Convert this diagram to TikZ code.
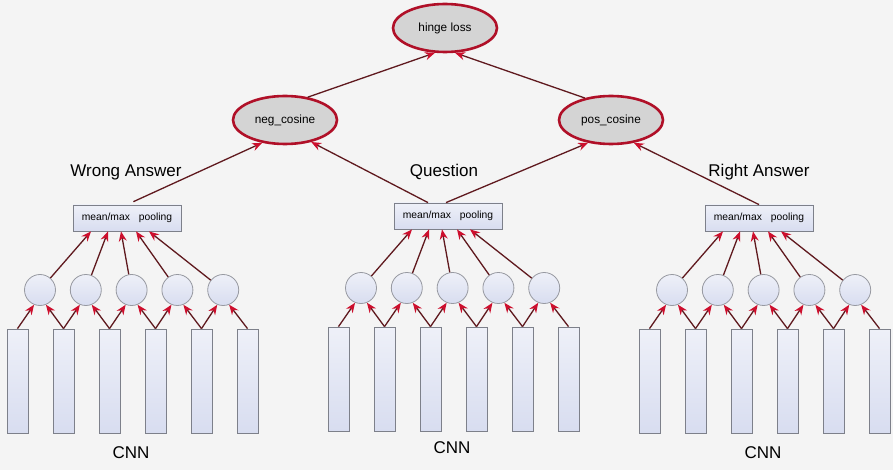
\documentclass[tikz,border=0pt]{standalone}
\usepackage{fontspec}
\setmainfont{Liberation Sans}
\usetikzlibrary{shapes.geometric,arrows.meta}
\definecolor{bg}{RGB}{244,244,244}
\definecolor{lossred}{RGB}{176,16,40}
\definecolor{ellfill}{RGB}{212,212,212}
\definecolor{linecol}{RGB}{95,25,30}
\definecolor{tipred}{RGB}{205,15,45}
\definecolor{boxedge}{RGB}{125,128,138}
\definecolor{bluetop}{RGB}{238,240,248}
\definecolor{bluebot}{RGB}{216,221,240}
\tikzset{
 lossnode/.style={ellipse, draw=lossred, line width=2.6pt, fill=ellfill, minimum width=104pt, minimum height=48pt, inner sep=0pt, font=\fontsize{11.8}{14}\selectfont},
 poolbox/.style={rectangle, draw=boxedge, line width=0.8pt, top color=bluetop, bottom color=bluebot, minimum width=108pt, minimum height=26pt, inner sep=0pt, font=\fontsize{10.3}{12}\selectfont},
 cell/.style={circle, draw=boxedge!80, line width=0.8pt, top color=bluetop, bottom color=bluebot, minimum size=31pt, inner sep=0pt},
 barbox/.style={rectangle, draw=boxedge, line width=0.8pt, top color=bluetop, bottom color=bluebot, minimum width=21pt, minimum height=104pt, inner sep=0pt},
 grplabel/.style={font=\fontsize{17}{20}\selectfont, inner sep=0pt},
 conn/.style={draw=linecol, line width=1.3pt, -{Stealth[length=10pt,width=8pt,color=tipred]}},
}
\newcommand{\cnngroup}[3]{%
 \begin{scope}[shift={(#2,#3)}]
  \foreach \i in {1,...,6} \node[barbox] (#1b\i) at ({17.5+46*(\i-1)},381) {};
  \foreach \j in {1,...,5} \node[cell] (#1c\j) at ({40+45.8*(\j-1)},290) {};
  \node[poolbox] (#1p) at (127,218) {mean/max\hspace{9pt}pooling};
 \end{scope}
 \foreach \j in {1,...,5} {
   \pgfmathtruncatemacro\k{\j+1}
   \draw[conn] (#1b\j.north) -- (#1c\j.-112);
   \draw[conn] (#1b\k.north) -- (#1c\j.-68);
 }
 \foreach \j/\s in {1/-36,2/-19,3/-6,4/9,5/22} \draw[conn] (#1c\j) -- ([xshift=\s pt]#1p.south);
}
\begin{document}
\begin{tikzpicture}[x=1pt,y=-1pt]
\fill[bg] (0,0) rectangle (893,470);
\useasboundingbox (0,0) rectangle (893,470);
\node[lossnode] (hinge) at (445,28) {hinge loss};
\node[lossnode] (neg) at (285,120) {neg\_cosine};
\node[lossnode] (pos) at (611,120) {pos\_cosine};
\cnngroup{L}{0}{0}
\cnngroup{Q}{321}{-2}
\cnngroup{R}{632}{0}
\node[grplabel] (wl) at (126,172) {Wrong Answer};
\node[grplabel] (ql) at (444,172) {Question};
\node[grplabel] (rl) at (759,172) {Right Answer};
\node[grplabel] (cnnl) at (131,453) {CNN};
\node[grplabel] (cnnq) at (452,448) {CNN};
\node[grplabel] (cnnr) at (763,453) {CNN};
\draw[conn] (neg.45) -- (hinge.-112);
\draw[conn] (pos.140) -- (hinge.-68);
\draw[conn, shorten <=7pt] (Lp.north) -- (neg.-135);
\draw[conn] ([xshift=-20pt]Qp.north) -- (neg.-40);
\draw[conn] ([xshift=-2pt]Qp.north) -- (pos.-135);
\draw[conn] (Rp.north) -- (pos.-45);
\end{tikzpicture}
\end{document}
